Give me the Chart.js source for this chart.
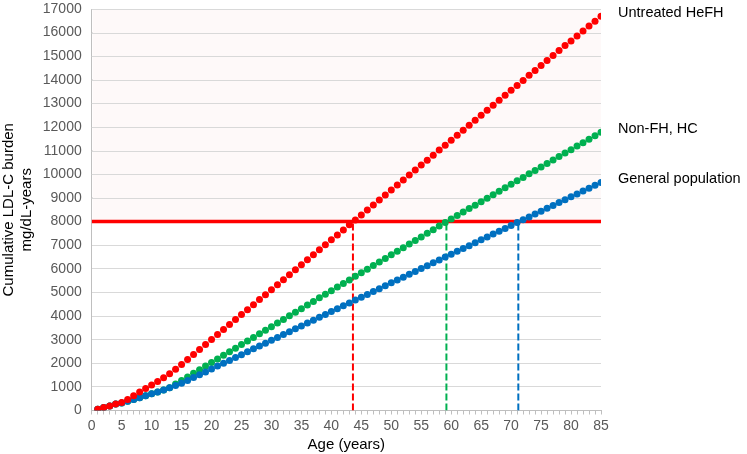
<!DOCTYPE html>
<html lang="en">
<head>
  <meta charset="UTF-8" />
  <title>Cumulative LDL-C burden</title>
  <script src="https://cdn.jsdelivr.net/npm/chart.js"></script>
  <style>
    body {
      margin: 0;
      background: #fff;
    }
    #chart {
      display: block;
    }
  </style>
</head>
<body>
  <canvas id="chart" width="747" height="454"></canvas>

  <script>
    const ages = [
      1, 2, 3, 4, 5, 6, 7, 8, 9, 10, 11, 12, 13, 14, 15, 16, 17, 18, 19, 20,
      21, 22, 23, 24, 25, 26, 27, 28, 29, 30, 31, 32, 33, 34, 35, 36, 37, 38, 39, 40,
      41, 42, 43, 44, 45, 46, 47, 48, 49, 50, 51, 52, 53, 54, 55, 56, 57, 58, 59, 60,
      61, 62, 63, 64, 65, 66, 67, 68, 69, 70, 71, 72, 73, 74, 75, 76, 77, 78, 79, 80,
      81, 82, 83, 84, 85
    ];

    const untreatedHeFH = [
      55, 130, 195, 270, 335, 470, 620, 780, 935, 1080, 1225, 1390, 1560, 1750, 1950, 2160, 2370, 2585, 2795, 3005,
      3215, 3425, 3640, 3850, 4060, 4270, 4480, 4695, 4905, 5115, 5325, 5535, 5750, 5960, 6170, 6380, 6590, 6805, 7015, 7225,
      7435, 7645, 7860, 8070, 8280, 8490, 8700, 8915, 9125, 9335, 9545, 9755, 9970, 10180, 10390, 10600, 10810, 11025, 11235, 11445,
      11655, 11865, 12080, 12290, 12500, 12710, 12920, 13135, 13345, 13555, 13765, 13975, 14190, 14400, 14610, 14820, 15030, 15245, 15455, 15650,
      15860, 16065, 16275, 16480, 16690
    ];

    const nonFHHC = [
      55, 130, 195, 270, 320, 390, 465, 545, 625, 705, 785, 870, 960, 1120, 1265, 1420, 1575, 1730, 1880, 2030,
      2185, 2335, 2490, 2640, 2790, 2945, 3095, 3250, 3400, 3550, 3705, 3855, 4010, 4160, 4310, 4465, 4615, 4770, 4920, 5070,
      5225, 5375, 5530, 5680, 5830, 5985, 6135, 6290, 6440, 6590, 6745, 6895, 7050, 7200, 7350, 7505, 7655, 7810, 7960, 8105,
      8255, 8400, 8550, 8695, 8840, 8990, 9135, 9285, 9430, 9575, 9725, 9870, 10020, 10165, 10310, 10460, 10605, 10755, 10900, 11045,
      11195, 11340, 11490, 11635, 11780
    ];

    const generalPop = [
      55, 130, 195, 270, 320, 390, 465, 545, 625, 705, 785, 870, 960, 1055, 1150, 1270, 1395, 1515, 1635, 1760,
      1880, 2000, 2120, 2245, 2365, 2485, 2610, 2730, 2850, 2975, 3095, 3215, 3335, 3460, 3580, 3700, 3825, 3945, 4065, 4190,
      4310, 4430, 4550, 4675, 4795, 4915, 5040, 5160, 5280, 5405, 5525, 5645, 5765, 5890, 6010, 6130, 6255, 6375, 6495, 6620,
      6740, 6860, 6980, 7105, 7225, 7345, 7470, 7590, 7710, 7835, 7955, 8075, 8195, 8320, 8440, 8560, 8685, 8805, 8925, 9050,
      9170, 9290, 9410, 9535, 9655
    ];

    const threshold = 8000;
    const crossAges = [43.6, 59.2, 71.2];   // red, green, blue
    const seriesNames = ['Untreated HeFH', 'Non-FH, HC', 'General population'];

    const RED = '#ff0000';
    const GREEN = '#00b050';
    const BLUE = '#0070c0';
    const FONT = "'Liberation Sans', Arial, Helvetica, sans-serif";

    const toPoints = vals => ages.map((a, i) => ({ x: a, y: vals[i] }));

    function dots(label, vals, color) {
      return {
        label: label,
        data: toPoints(vals),
        showLine: false,
        pointRadius: 3.5,
        pointHoverRadius: 3.5,
        pointBackgroundColor: color,
        pointBorderWidth: 0,
        borderColor: color
      };
    }

    function vline(age, color) {
      return {
        data: [{ x: age, y: 0 }, { x: age, y: threshold }],
        showLine: true,
        pointRadius: 0,
        borderColor: color,
        borderWidth: 2,
        borderDash: [7, 3]
      };
    }

    // pink band above the threshold + series names on the right
    const extras = {
      id: 'extras',
      beforeDatasetsDraw(chart) {
        const { ctx, chartArea, scales } = chart;
        const yT = scales.y.getPixelForValue(threshold);
        ctx.save();
        ctx.fillStyle = '#fef9f9';
        ctx.fillRect(chartArea.left + 1, chartArea.top, chartArea.right - chartArea.left - 1, yT - chartArea.top);
        // redraw grid lines on top of the band
        ctx.strokeStyle = '#d9d9d9';
        ctx.lineWidth = 1;
        scales.y.ticks.forEach(t => {
          if (t.value <= threshold) return;
          const y = Math.round(scales.y.getPixelForValue(t.value)) + 0.5;
          ctx.beginPath();
          ctx.moveTo(chartArea.left, y);
          ctx.lineTo(chartArea.right, y);
          ctx.stroke();
        });
        ctx.restore();
      },
      afterDraw(chart) {
        const { ctx, chartArea, scales } = chart;
        const last = [untreatedHeFH, nonFHHC, generalPop].map(s => s[s.length - 1]);
        ctx.save();
        ctx.fillStyle = '#000';
        ctx.font = '14.5px ' + FONT;
        ctx.textBaseline = 'middle';
        seriesNames.forEach((name, i) => {
          ctx.fillText(name, chartArea.right + 17, scales.y.getPixelForValue(last[i]) - 3);
        });
        ctx.restore();
      }
    };

    const chart = new Chart(document.getElementById('chart'), {
      type: 'scatter',
      data: {
        datasets: [
          dots(seriesNames[0], untreatedHeFH, RED),
          dots(seriesNames[2], generalPop, BLUE),
          dots(seriesNames[1], nonFHHC, GREEN),
          {
            data: [{ x: 0, y: threshold }, { x: 85, y: threshold }],
            showLine: true,
            pointRadius: 0,
            borderColor: RED,
            borderWidth: 3.5
          },
          vline(crossAges[0], RED),
          vline(crossAges[1], GREEN),
          vline(crossAges[2], BLUE)
        ]
      },
      options: {
        responsive: false,
        animation: false,
        layout: { padding: { top: 9, right: 146, left: 0, bottom: 0 } },
        plugins: {
          legend: { display: false },
          tooltip: { enabled: false }
        },
        scales: {
          x: {
            type: 'linear',
            min: 0,
            max: 85,
            afterFit: s => { s.height = 43.5; s.paddingLeft = 0; s.paddingRight = 0; },
            ticks: {
              stepSize: 1,
              autoSkip: false,
              maxRotation: 0,
              padding: 3,
              color: '#595959',
              font: { family: FONT, size: 14 },
              callback: v => (v % 5 === 0 ? String(v) : '')
            },
            grid: {
              drawOnChartArea: false,
              drawTicks: true,
              tickLength: 4,
              color: '#bfbfbf'
            },
            border: { color: '#bfbfbf' },
            title: {
              display: true,
              text: 'Age (years)',
              color: '#000',
              font: { family: FONT, size: 15 },
              padding: { top: 0, bottom: 0 }
            }
          },
          y: {
            min: 0,
            max: 17000,
            afterFit: s => { s.width = 91.7; s.paddingTop = 0; s.paddingBottom = 0; },
            ticks: {
              stepSize: 1000,
              padding: 10,
              color: '#595959',
              font: { family: FONT, size: 14 },
              callback: v => String(v)
            },
            grid: {
              color: '#d9d9d9',
              drawTicks: false
            },
            border: { color: '#bfbfbf' },
            title: {
              display: true,
              text: ['Cumulative LDL-C burden', 'mg/dL-years'],
              color: '#000',
              font: { family: FONT, size: 15, lineHeight: 1.2 },
              padding: { top: 0, bottom: 0 }
            }
          }
        }
      },
      plugins: [extras]
    });
  </script>
</body>
</html>
